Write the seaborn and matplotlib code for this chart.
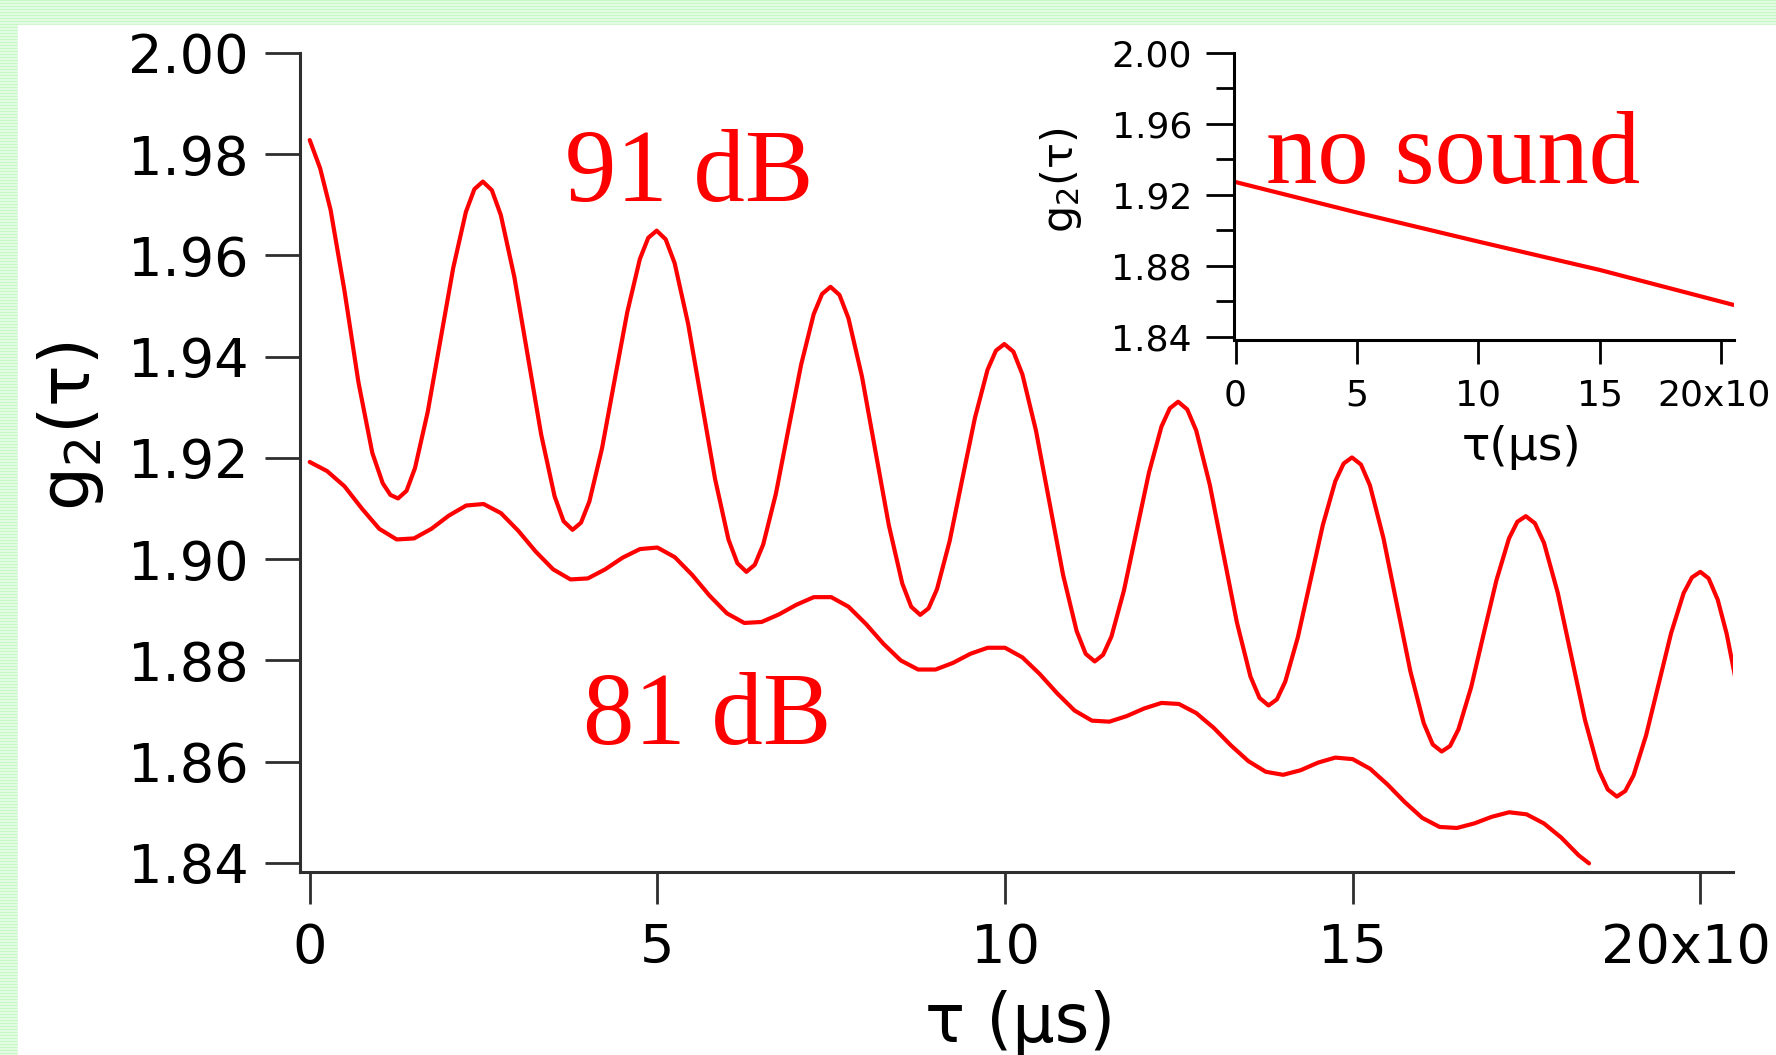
import numpy as np
import pandas as pd
import matplotlib
matplotlib.use('Agg')
import matplotlib.pyplot as plt
from matplotlib.patches import Rectangle
from matplotlib.transforms import ScaledTranslation
import seaborn as sns

# g2(tau), tau in microseconds
tau_91 = [0.0, 0.15, 0.3, 0.5, 0.7, 0.9, 1.05, 1.16, 1.27,
          1.392, 1.514, 1.697, 1.88, 2.063, 2.246, 2.368, 2.49,
          2.619, 2.748, 2.942, 3.135, 3.329, 3.522, 3.651, 3.78,
          3.901, 4.022, 4.204, 4.385, 4.567, 4.748, 4.869, 4.99,
          5.119, 5.248, 5.442, 5.635, 5.829, 6.022, 6.151, 6.28,
          6.401, 6.522, 6.704, 6.885, 7.067, 7.248, 7.369, 7.49,
          7.619, 7.748, 7.942, 8.135, 8.329, 8.522, 8.651, 8.78,
          8.901, 9.022, 9.204, 9.385, 9.567, 9.748, 9.869, 9.99,
          10.12, 10.25, 10.445, 10.64, 10.835, 11.03, 11.16, 11.29,
          11.41, 11.53, 11.71, 11.89, 12.07, 12.25, 12.37, 12.49,
          12.62, 12.75, 12.945, 13.14, 13.335, 13.53, 13.66, 13.79,
          13.91, 14.03, 14.21, 14.39, 14.57, 14.75, 14.87, 14.99,
          15.119, 15.248, 15.442, 15.635, 15.829, 16.022, 16.151, 16.28,
          16.401, 16.522, 16.704, 16.885, 17.067, 17.248, 17.369, 17.49,
          17.621, 17.752, 17.949, 18.145, 18.342, 18.538, 18.669, 18.8,
          18.92, 19.04, 19.22, 19.4, 19.58, 19.76, 19.88, 20.0,
          20.12, 20.25, 20.38, 20.5]
g2_91 = [1.9828, 1.9772, 1.9690, 1.9530, 1.9350, 1.9210, 1.9150, 1.9127, 1.9120,
         1.9135, 1.9180, 1.9291, 1.9433, 1.9575, 1.9686, 1.9731, 1.9746,
         1.9729, 1.9680, 1.9558, 1.9402, 1.9246, 1.9124, 1.9075, 1.9058,
         1.9072, 1.9114, 1.9219, 1.9354, 1.9488, 1.9593, 1.9635, 1.9649,
         1.9632, 1.9585, 1.9465, 1.9312, 1.9159, 1.9039, 1.8992, 1.8975,
         1.8989, 1.9029, 1.9129, 1.9257, 1.9384, 1.9484, 1.9524, 1.9538,
         1.9522, 1.9476, 1.9361, 1.9214, 1.9067, 1.8952, 1.8906, 1.8890,
         1.8903, 1.8941, 1.9036, 1.9158, 1.9279, 1.9374, 1.9412, 1.9425,
         1.9410, 1.9365, 1.9254, 1.9112, 1.8969, 1.8858, 1.8813, 1.8798,
         1.8811, 1.8847, 1.8938, 1.9055, 1.9171, 1.9262, 1.9298, 1.9311,
         1.9296, 1.9254, 1.9147, 1.9011, 1.8875, 1.8768, 1.8726, 1.8711,
         1.8723, 1.8758, 1.8845, 1.8956, 1.9067, 1.9154, 1.9189, 1.9201,
         1.9187, 1.9146, 1.9042, 1.8911, 1.8779, 1.8676, 1.8634, 1.8620,
         1.8631, 1.8664, 1.8747, 1.8853, 1.8958, 1.9041, 1.9074, 1.9085,
         1.9071, 1.9032, 1.8934, 1.8808, 1.8682, 1.8584, 1.8545, 1.8531,
         1.8542, 1.8573, 1.8652, 1.8753, 1.8854, 1.8933, 1.8964, 1.8975,
         1.8962, 1.8920, 1.8852, 1.8768]

tau_81 = [0.0, 0.25, 0.5, 0.75, 1.0, 1.25, 1.5, 1.75, 2.0, 2.25, 2.5, 2.75, 3.0, 3.25,
          3.5, 3.75, 4.0, 4.25, 4.5, 4.75, 5.0, 5.25, 5.5, 5.75, 6.0, 6.25, 6.5, 6.75,
          7.0, 7.25, 7.5, 7.75, 8.0, 8.25, 8.5, 8.75, 9.0, 9.25, 9.5, 9.75, 10.0, 10.25,
          10.5, 10.75, 11.0, 11.25, 11.5, 11.75, 12.0, 12.25, 12.5, 12.75, 13.0, 13.25,
          13.5, 13.75, 14.0, 14.25, 14.5, 14.75, 15.0, 15.25, 15.5, 15.75, 16.0, 16.25,
          16.5, 16.75, 17.0, 17.25, 17.5, 17.75, 18.0, 18.25, 18.4]
g2_81 = [1.9192, 1.9174, 1.9144, 1.9100, 1.9060, 1.9039, 1.9041, 1.9060, 1.9086, 1.9106,
         1.9109, 1.9091, 1.9056, 1.9015, 1.8980, 1.8960, 1.8962, 1.8980, 1.9003, 1.9020,
         1.9023, 1.9004, 1.8969, 1.8928, 1.8893, 1.8874, 1.8876, 1.8891, 1.8910, 1.8925,
         1.8925, 1.8906, 1.8872, 1.8833, 1.8800, 1.8782, 1.8782, 1.8795, 1.8813, 1.8825,
         1.8825, 1.8806, 1.8773, 1.8735, 1.8701, 1.8681, 1.8679, 1.8690, 1.8705, 1.8716,
         1.8714, 1.8696, 1.8667, 1.8632, 1.8601, 1.8580, 1.8574, 1.8583, 1.8598, 1.8608,
         1.8605, 1.8586, 1.8555, 1.8520, 1.8489, 1.8471, 1.8469, 1.8478, 1.8491, 1.8500,
         1.8496, 1.8478, 1.8450, 1.8415, 1.8399]

# inset: no sound
tau_quiet = [0.0, 5.0, 10.0, 15.0, 20.5]
g2_quiet = [1.9272, 1.9100, 1.8936, 1.8776, 1.8579]

main_yticks = [1.84, 1.86, 1.88, 1.90, 1.92, 1.94, 1.96, 1.98, 2.00]
inset_yticks = [1.84, 1.88, 1.92, 1.96, 2.00]
inset_yminor = [1.86, 1.90, 1.94, 1.98]
xticks = [0, 5, 10, 15, 20]
xtick_labels = ['0', '5', '10', '15', '20x10']

sns.set_theme(style='white')
plt.rcParams['font.family'] = ['DejaVu Sans']
plt.rcParams['mathtext.default'] = 'regular'
plt.rcParams['text.color'] = 'black'

W, H = 1776, 1055
fig = plt.figure(figsize=(W / 100, H / 100), dpi=100)

# slide background: green striped border, white content area
bg = fig.add_axes([0, 0, 1, 1], zorder=-10)
stripes = np.empty((H, 1, 3))
stripes[:] = (0.89, 0.99, 0.89)
stripes[::3] = (0.78, 0.97, 0.78)
bg.imshow(stripes, aspect='auto', extent=[0, 1, 0, 1], interpolation='nearest')
bg.add_patch(Rectangle((18 / W, 0), 1, 1 - 25 / H, color='white'))
bg.set_xlim(0, 1)
bg.set_ylim(0, 1)
bg.axis('off')

spine_c = '#2e2e2e'
lw = 3.0

# main panel
ax = fig.add_axes([300 / W, 1 - 872 / H, (1733 - 300) / W, (872 - 53) / H])
ax.patch.set_alpha(0)
df91 = pd.DataFrame({'tau': tau_91, 'g2': g2_91})
df81 = pd.DataFrame({'tau': tau_81, 'g2': g2_81})
sns.lineplot(data=df91, x='tau', y='g2', ax=ax, color='red', lw=lw, sort=False, estimator=None)
sns.lineplot(data=df81, x='tau', y='g2', ax=ax, color='red', lw=lw, sort=False, estimator=None)
ax.set_xlim(-0.14, 20.47)
ax.set_ylim(1.8382, 2.0)
ax.set_xticks(xticks)
ax.set_xticklabels(xtick_labels)
ax.set_yticks(main_yticks)
ax.set_yticklabels(['%.2f' % v for v in main_yticks])
ax.set_xlabel('')
ax.set_ylabel('')
for s in ['top', 'right']:
    ax.spines[s].set_visible(False)
for s in ['left', 'bottom']:
    ax.spines[s].set_linewidth(2.2)
    ax.spines[s].set_color(spine_c)
ax.tick_params(axis='y', direction='out', length=25, width=2, pad=12, labelsize=39,
               color=spine_c, labelcolor='black', left=True)
ax.tick_params(axis='x', direction='out', length=23, width=2, pad=13, labelsize=39,
               color=spine_c, labelcolor='black', bottom=True)
last = ax.get_xticklabels()[-1]
last.set_transform(last.get_transform() + ScaledTranslation(-10 / 72, 0, fig.dpi_scale_trans))

# inset panel
axi = fig.add_axes([1233.6 / W, 1 - 340 / H, (1734 - 1233.6) / W, (340 - 53) / H])
axi.patch.set_alpha(0)
dfq = pd.DataFrame({'tau': tau_quiet, 'g2': g2_quiet})
sns.lineplot(data=dfq, x='tau', y='g2', ax=axi, color='red', lw=lw, sort=False, estimator=None)
axi.set_xlim(-0.08, 20.52)
axi.set_ylim(1.8381, 2.0)
axi.set_xticks(xticks)
axi.set_xticklabels(xtick_labels)
axi.set_yticks(inset_yticks)
axi.set_yticklabels(['%.2f' % v for v in inset_yticks])
axi.set_yticks(inset_yminor, minor=True)
axi.set_xlabel('')
axi.set_ylabel('')
for s in ['top', 'right']:
    axi.spines[s].set_visible(False)
for s in ['left', 'bottom']:
    axi.spines[s].set_linewidth(2.2)
    axi.spines[s].set_color('black')
axi.tick_params(axis='y', which='major', direction='out', length=20, width=2, pad=10,
                labelsize=26, color='black', labelcolor='black', left=True)
axi.tick_params(axis='y', which='minor', direction='out', length=13, width=2,
                color='black', left=True)
axi.tick_params(axis='x', direction='out', length=17, width=2, pad=11, labelsize=26,
                color='black', labelcolor='black', bottom=True)
last = axi.get_xticklabels()[-1]
last.set_transform(last.get_transform() + ScaledTranslation(-5 / 72, 0, fig.dpi_scale_trans))

# axis titles
fig.text(71 / W, 1 - 426 / H, 'g$_2$(τ)', rotation=90, ha='center', va='center', fontsize=50)
fig.text(1020 / W, 0.0123, 'τ (μs)', ha='center', va='baseline', fontsize=48)
fig.text(1061 / W, 1 - 180 / H, 'g$_2$(τ)', rotation=90, ha='center', va='center', fontsize=31)
fig.text(1522 / W, 1 - 448 / H, 'τ(μs)', ha='center', va='center', fontsize=34)

# curve annotations
serif = ['Liberation Serif', 'DejaVu Serif']
fig.text(565 / W, 1 - 201 / H, '91 dB', color='red', fontsize=74, family=serif, va='baseline')
fig.text(583 / W, 1 - 744 / H, '81 dB', color='red', fontsize=74, family=serif, va='baseline')
fig.text(1266 / W, 1 - 183 / H, 'no sound', color='red', fontsize=74, family=serif, va='baseline')

fig.savefig('out.png', dpi=100)
